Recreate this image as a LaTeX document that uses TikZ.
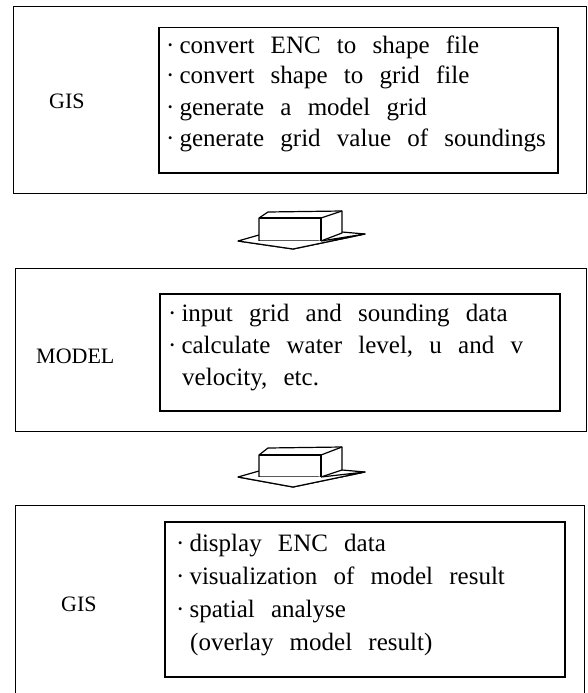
\documentclass[tikz,border=0pt]{standalone}
\usepackage{fontspec}
\setmainfont{Liberation Serif}
\newcommand{\bodytxt}[1]{\fontsize{25}{28}\selectfont\spaceskip=0.65em plus 0.1em\relax #1}
\begin{document}
\begin{tikzpicture}[x=1pt,y=-1pt,
  outerbox/.style={draw=black,line width=1.3pt},
  innerbox/.style={draw=black,line width=1.5pt},
  lbl/.style={font=\fontsize{22}{25}\selectfont,anchor=base west,inner sep=0pt},
  body/.style={anchor=base west,inner sep=0pt},
  arr/.style={draw=black,line width=1.2pt,line join=round,fill=white}]
\useasboundingbox (0,0) rectangle (587,693);
\fill[white] (0,0) rectangle (587,693);

% ---------- box 1
\node[outerbox,inner sep=0pt,minimum width=573pt,minimum height=187pt,anchor=north west] (gis1) at (13,6) {};
\node[innerbox,inner sep=0pt,minimum width=399pt,minimum height=145pt,anchor=north west] (in1) at (158,27) {};
\node[lbl] (gis1l) at (49,108) {GIS};
\node[body] (a1) at (166,53) {\bodytxt{·\hspace{5pt}convert ENC to shape file}};
\node[body] (a2) at (166,84) {\bodytxt{·\hspace{5pt}convert shape to grid file}};
\node[body] (a3) at (166,115) {\bodytxt{·\hspace{5pt}generate a model grid}};
\node[body] (a4) at (166,146) {\bodytxt{·\hspace{5pt}generate grid value of soundings}};

% ---------- arrow 1
\coordinate (A1L) at (238,241);
\coordinate (A1B) at (293,249);
\coordinate (A1R) at (365,234);
\path[arr] (A1L) -- (259,235) -- (342,232) -- (A1R) -- (A1B) -- cycle;
\path[arr] (259,218) -- (268,212) -- (342,211) -- (342,233) -- (321,241) -- (259,241) -- cycle;
\draw[arr] (259,218) -- (321,218) -- (321,241);
\draw[arr] (321,218) -- (342,211);
\draw[arr] (A1L) -- (A1B) -- (A1R) -- (321,241);

% ---------- box 2
\node[outerbox,inner sep=0pt,minimum width=571pt,minimum height=163pt,anchor=north west] (model) at (15,268) {};
\node[innerbox,inner sep=0pt,minimum width=400pt,minimum height=117pt,anchor=north west] (in2) at (159,293) {};
\node[lbl] (modell) at (36,363) {MODEL};
\node[body] (b1) at (168,321) {\bodytxt{·\hspace{5pt}input grid and sounding data}};
\node[body] (b2) at (168,353) {\bodytxt{·\hspace{5pt}calculate water level, u and v}};
\node[body] (b3) at (182,385) {\bodytxt{velocity, etc.}};

% ---------- arrow 2
\coordinate (A2L) at (238,477);
\coordinate (A2B) at (293,487);
\coordinate (A2R) at (365,472);
\path[arr] (A2L) -- (259,471) -- (342,470) -- (A2R) -- (A2B) -- cycle;
\path[arr] (259,455) -- (268,448) -- (342,447) -- (342,470) -- (321,477) -- (259,477) -- cycle;
\draw[arr] (259,455) -- (321,455) -- (321,477);
\draw[arr] (321,455) -- (342,447);
\draw[arr] (A2L) -- (A2B) -- (A2R) -- (321,477);

% ---------- box 3
\node[outerbox,inner sep=0pt,minimum width=569pt,minimum height=200pt,anchor=north west] (gis3) at (15,505) {};
\node[innerbox,inner sep=0pt,minimum width=400pt,minimum height=155pt,anchor=north west] (in3) at (164,521) {};
\node[lbl] (gis3l) at (61,611) {GIS};
\node[body] (c1) at (176,551) {\bodytxt{·\hspace{5pt}display ENC data}};
\node[body] (c2) at (176,584) {\bodytxt{·\hspace{5pt}visualization of model result}};
\node[body] (c3) at (176,617) {\bodytxt{·\hspace{5pt}spatial analyse}};
\node[body] (c4) at (190,650) {\bodytxt{(overlay model result)}};
\end{tikzpicture}
\end{document}
